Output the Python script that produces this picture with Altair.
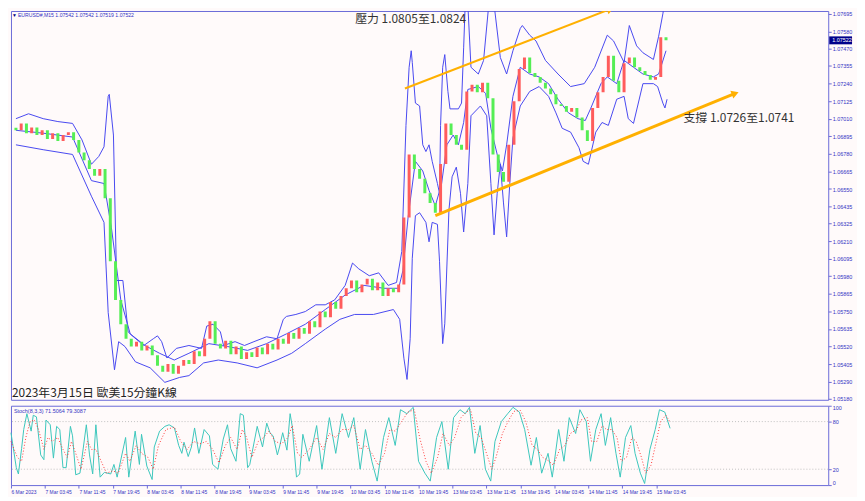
import altair as alt
import pandas as pd

# ---------------- data ----------------
price_ticks = [1.07695, 1.07580, 1.07470, 1.07355, 1.07240, 1.07125, 1.07010, 1.06895,
               1.06780, 1.06665, 1.06550, 1.06435, 1.06325, 1.06210, 1.06095, 1.05980,
               1.05865, 1.05750, 1.05635, 1.05520, 1.05405, 1.05290, 1.05180]
x_tick_bars = [0, 32, 64, 96, 128, 160, 192, 224, 256, 288, 320, 352, 384, 416, 448, 480,
               512, 544, 576, 608]
x_tick_labels = ["6 Mar 2023", "7 Mar 03:45", "7 Mar 11:45", "7 Mar 19:45", "8 Mar 03:45",
                 "8 Mar 11:45", "8 Mar 19:45", "9 Mar 03:45", "9 Mar 11:45", "9 Mar 19:45",
                 "10 Mar 03:45", "10 Mar 11:45", "10 Mar 19:45", "13 Mar 03:45", "13 Mar 11:45",
                 "13 Mar 19:45", "14 Mar 03:45", "14 Mar 11:45", "14 Mar 19:45", "15 Mar 03:45"]

candle_bar = list(range(0, 625, 5))
candle_first_open = 1.06950
candle_close = [
    1.06934, 1.06979, 1.06915, 1.06953, 1.06903, 1.06934, 1.06877, 1.06915, 1.06864, 1.06903,
    1.06922, 1.06871, 1.06788, 1.06738, 1.06681, 1.06636, 1.06681, 1.06490, 1.06078, 1.05825,
    1.05666, 1.05571, 1.05520, 1.05552, 1.05495, 1.05527, 1.05463, 1.05394, 1.05356, 1.05406,
    1.05343, 1.05394, 1.05432, 1.05406, 1.05489, 1.05457, 1.05571, 1.05685, 1.05539, 1.05508,
    1.05558, 1.05470, 1.05520, 1.05438, 1.05482, 1.05451, 1.05514, 1.05470, 1.05539, 1.05501,
    1.05571, 1.05539, 1.05609, 1.05571, 1.05641, 1.05603, 1.05685, 1.05647, 1.05749, 1.05711,
    1.05812, 1.05768, 1.05850, 1.05901, 1.05952, 1.05875, 1.05926, 1.05964, 1.05888, 1.05939,
    1.05850, 1.05901, 1.05875, 1.05926, 1.06364, 1.06776, 1.06681, 1.06617, 1.06522, 1.06459,
    1.06395, 1.06713, 1.06979, 1.06903, 1.06839, 1.06807, 1.07188, 1.07232, 1.07182, 1.07245,
    1.07143, 1.06776, 1.06662, 1.06598, 1.06839, 1.07124, 1.07334, 1.07410, 1.07308, 1.07283,
    1.07245, 1.07207, 1.07169, 1.07105, 1.07093, 1.07055, 1.07080, 1.07017, 1.06934, 1.06864,
    1.07080, 1.07182, 1.07283, 1.07422, 1.07258, 1.07182, 1.07372, 1.07410, 1.07346, 1.07321,
    1.07296, 1.07264, 1.07283, 1.07542, 1.07522]

upper_bar = [0, 12, 26, 40, 54, 63, 72, 79, 84, 88, 89, 93, 96, 102, 107, 111, 122, 131, 135,
             139, 144, 153, 165, 177, 182, 188, 195, 198, 209, 218, 227, 239, 249, 255, 258, 267,
             276, 286, 295, 304, 314, 321, 327, 337, 346, 355, 363, 368, 372, 375, 377, 378, 381,
             385, 388, 391, 394, 397, 402, 404, 405, 407, 409, 412, 414, 422, 425, 427, 429, 431,
             434, 441, 446, 451, 454, 456, 462, 468, 474, 481, 483, 490, 496, 505, 517, 529, 542,
             552, 564, 570, 580, 585, 592, 598, 608, 613, 617, 620]
upper_band = [1.07010, 1.07042, 1.07010, 1.06991, 1.06979, 1.06871, 1.06712, 1.06763, 1.06826,
              1.07156, 1.07169, 1.06903, 1.05952, 1.05952, 1.05616, 1.05590, 1.05527, 1.05571,
              1.05590, 1.05552, 1.05445, 1.05508, 1.05527, 1.05508, 1.05654, 1.05666, 1.05616,
              1.05527, 1.05552, 1.05527, 1.05552, 1.05584, 1.05571, 1.05698, 1.05717, 1.05730,
              1.05749, 1.05793, 1.05793, 1.05825, 1.05920, 1.06066, 1.06028, 1.05983, 1.06002,
              1.05920, 1.05939, 1.06142, 1.06966, 1.07346, 1.07454, 1.07378, 1.07112, 1.07093,
              1.06839, 1.06795, 1.06839, 1.06731, 1.06586, 1.06522, 1.06966, 1.07346, 1.07429,
              1.07188, 1.07074, 1.07074, 1.07112, 1.07473, 1.07854, 1.07758, 1.07346, 1.07302,
              1.07391, 1.07758, 1.07854, 1.07758, 1.07410, 1.07302, 1.07454, 1.07600, 1.07619,
              1.07556, 1.07518, 1.07391, 1.07302, 1.07220, 1.07239, 1.07346, 1.07556, 1.07518,
              1.07378, 1.07619, 1.07486, 1.07441, 1.07397, 1.07549, 1.07695, 1.07822]

middle_bar = [0, 26, 54, 72, 84, 91, 100, 109, 123, 137, 151, 165, 184, 202, 221, 239, 258, 276,
              295, 314, 332, 351, 365, 369, 374, 381, 388, 394, 400, 406, 411, 417, 422, 427, 431,
              441, 448, 453, 459, 464, 468, 474, 481, 490, 499, 508, 517, 527, 536, 543, 548, 558,
              564, 573, 580, 589, 598, 608, 613, 620]
middle_band = [1.06934, 1.06915, 1.06890, 1.06605, 1.06586, 1.06300, 1.05825, 1.05603, 1.05527,
               1.05476, 1.05432, 1.05476, 1.05539, 1.05520, 1.05495, 1.05539, 1.05603, 1.05666,
               1.05762, 1.05857, 1.05920, 1.05901, 1.05901, 1.06015, 1.06364, 1.06731, 1.06668,
               1.06541, 1.06440, 1.06586, 1.06839, 1.06903, 1.06839, 1.06985, 1.07201, 1.07220,
               1.07175, 1.06947, 1.06776, 1.06668, 1.06839, 1.07156, 1.07346, 1.07302, 1.07283,
               1.07239, 1.07137, 1.07048, 1.07010, 1.06998, 1.07074, 1.07239, 1.07283, 1.07239,
               1.07391, 1.07346, 1.07302, 1.07283, 1.07302, 1.07454]

lower_bar = [0, 26, 54, 72, 84, 88, 94, 98, 104, 114, 128, 142, 156, 165, 179, 193, 211, 230,
             249, 263, 276, 295, 309, 323, 341, 360, 366, 370, 373, 376, 378, 381, 385, 391, 394,
             397, 402, 404, 407, 409, 413, 416, 420, 424, 427, 431, 434, 443, 449, 453, 456, 459,
             462, 465, 468, 471, 474, 481, 490, 499, 508, 515, 521, 529, 537, 541, 546, 553, 559,
             565, 573, 580, 584, 589, 598, 608, 612, 617, 619, 621]
lower_band = [1.06839, 1.06807, 1.06776, 1.06503, 1.06332, 1.05742, 1.05368, 1.05552, 1.05520,
              1.05420, 1.05381, 1.05286, 1.05318, 1.05330, 1.05413, 1.05432, 1.05413, 1.05381,
              1.05432, 1.05476, 1.05539, 1.05634, 1.05698, 1.05730, 1.05730, 1.05762, 1.05698,
              1.05444, 1.05305, 1.05571, 1.06097, 1.06376, 1.06395, 1.06332, 1.06205, 1.06332,
              1.06319, 1.06078, 1.05539, 1.05669, 1.06414, 1.06630, 1.06693, 1.06522, 1.06269,
              1.06586, 1.07029, 1.07093, 1.07029, 1.06586, 1.06250, 1.06522, 1.06713, 1.06459,
              1.06237, 1.06586, 1.06884, 1.07093, 1.07188, 1.07220, 1.07156, 1.07048, 1.06947,
              1.06922, 1.06820, 1.06731, 1.06712, 1.06922, 1.06985, 1.06966, 1.07137, 1.07156,
              1.07010, 1.06979, 1.07239, 1.07239, 1.07220, 1.07112, 1.07080, 1.07137]

stoch_bar = [0, 5, 7, 10, 12, 15, 19, 21, 24, 28, 31, 33, 37, 40, 43, 46, 49, 52, 56, 58, 61, 65,
             71, 74, 77, 80, 84, 88, 94, 97, 100, 108, 111, 117, 121, 123, 128, 133, 135, 140, 145,
             149, 154, 158, 161, 163, 167, 170, 173, 177, 182, 187, 190, 195, 200, 204, 207, 212,
             216, 219, 223, 225, 232, 237, 241, 244, 247, 251, 253, 256, 260, 263, 265, 269, 272,
             275, 281, 288, 293, 300, 306, 312, 318, 323, 329, 334, 340, 345, 351, 356, 362, 367,
             373, 379, 384, 390, 395, 401, 406, 412, 417, 423, 428, 432, 437, 442, 447, 452, 456,
             462, 468, 473, 479, 484, 490, 495, 500, 506, 510, 516, 521, 526, 532, 536, 542, 546,
             551, 556, 560, 565, 570, 574, 579, 584, 588, 593, 597, 602, 607, 611, 616, 621]
stoch_main = [66, 22, 14, 46, 70, 90, 68, 88, 86, 38, 32, 82, 76, 34, 74, 70, 22, 22, 74, 62, 13,
              15, 76, 38, 14, 76, 10, 16, 14, 26, 10, 60, 10, 68, 26, 64, 24, 7, 48, 68, 74, 76,
              72, 50, 40, 54, 36, 48, 72, 40, 70, 62, 26, 20, 58, 76, 46, 30, 90, 88, 22, 26, 74,
              48, 78, 66, 62, 38, 48, 66, 44, 90, 74, 10, 14, 64, 30, 75, 20, 85, 40, 90, 60, 85,
              20, 70, 30, 5, 60, 85, 50, 95, 90, 98, 30, 15, 5, 60, 80, 20, 85, 95, 90, 98, 40,
              75, 20, 5, 55, 80, 90, 98, 92, 70, 25, 60, 15, 40, 10, 70, 30, 85, 65, 95, 80, 30,
              70, 90, 50, 85, 40, 10, 60, 75, 40, 15, 2, 45, 70, 95, 92, 71.5]

signal_bar = [0, 6, 10, 14, 18, 22, 26, 31, 35, 39, 44, 49, 53, 57, 61, 66, 72, 76, 80, 85, 90,
              96, 101, 108, 112, 118, 123, 129, 134, 139, 146, 154, 160, 166, 172, 178, 184, 190,
              196, 202, 207, 213, 218, 222, 227, 233, 238, 243, 249, 255, 261, 265, 270, 274, 281,
              288, 294, 300, 306, 312, 318, 323, 329, 334, 340, 346, 352, 357, 362, 368, 374, 380,
              385, 391, 396, 402, 407, 413, 418, 424, 429, 433, 438, 443, 448, 453, 457, 463, 469,
              474, 480, 485, 491, 496, 501, 507, 511, 517, 522, 527, 533, 537, 543, 547, 552, 557,
              561, 566, 571, 575, 580, 585, 589, 594, 598, 603, 608, 612, 617, 621]
stoch_signal = [55, 35, 30, 60, 80, 82, 70, 45, 60, 55, 60, 45, 35, 55, 40, 20, 55, 45, 45, 30,
                15, 18, 15, 40, 30, 50, 40, 35, 20, 50, 70, 73, 55, 45, 55, 52, 55, 45, 28, 50, 60,
                45, 70, 60, 35, 55, 60, 68, 55, 52, 60, 75, 40, 35, 45, 60, 45, 65, 60, 70, 70, 75,
                45, 50, 40, 25, 40, 70, 68, 80, 92, 95, 60, 30, 15, 35, 65, 50, 60, 85, 92, 95, 65,
                60, 40, 20, 35, 65, 82, 93, 94, 80, 50, 45, 35, 30, 25, 45, 50, 65, 70, 82, 85, 55,
                55, 75, 70, 70, 60, 30, 35, 60, 55, 35, 15, 25, 55, 80, 88, 79.3]

channel_upper_bar = [371, 567]
channel_upper_price = [1.07207, 1.07727]
channel_lower_bar = [400, 686]
channel_lower_price = [1.06376, 1.07175]
last_price = 1.07522

# ---------------- styling ----------------
W, H_MAIN, H_STOCH = 824, 392, 80
FRAME = "#6a6ad8"
BLUE_TXT = "#3434c4"
BAND = "#4848f0"
UP = "#ff5c5c"
DOWN = "#55ee55"
ORANGE = "#ffb000"

xscale = alt.Scale(domain=[0, 770], nice=False, zero=False)
yscale = alt.Scale(domain=[1.05172, 1.07714], nice=False, zero=False)
yaxis = alt.Axis(orient="right", values=price_ticks, format=".5f", title=None, grid=False,
                 domain=False, tickSize=3, labelPadding=1, labelFontSize=5.5)


def X(field):
    return alt.X(field + ":Q", scale=xscale, axis=None)


def Y(field):
    return alt.Y(field + ":Q", scale=yscale, axis=yaxis)


opens = [candle_first_open] + candle_close[:-1]
candles = pd.DataFrame({"bar": candle_bar, "open": opens, "close": candle_close})
candles["dir"] = ["up" if c >= o else "down" for o, c in zip(opens, candle_close)]

candle_layer = alt.Chart(candles).mark_bar(size=3, clip=True).encode(
    x=X("bar"), y=Y("open"), y2="close:Q",
    color=alt.Color("dir:N", scale=alt.Scale(domain=["up", "down"], range=[UP, DOWN]), legend=None),
)


def band_layer(bars, vals):
    df = pd.DataFrame({"bar": bars, "p": vals})
    return alt.Chart(df).mark_line(color=BAND, strokeWidth=1, clip=True).encode(x=X("bar"), y=Y("p"))


def channel(bars, vals, width):
    df = pd.DataFrame({"bar": bars, "p": vals})
    line = alt.Chart(df).mark_line(color=ORANGE, strokeWidth=width, clip=True).encode(
        x=X("bar"), y=Y("p"))
    head = alt.Chart(df.tail(1)).mark_point(shape="triangle-right", filled=True, color=ORANGE,
                                            opacity=1, size=70, angle=339, clip=True).encode(
        x=X("bar"), y=Y("p"))
    return line + head


def text_layer(txt, x, y, size, color, font="Liberation Sans", baseline="middle"):
    return alt.Chart(pd.DataFrame({"t": [txt]})).mark_text(
        align="left", baseline=baseline, font=font, fontSize=size, color=color
    ).encode(x=alt.value(x), y=alt.value(y), text="t:N")


price_df = pd.DataFrame({"p": [last_price], "t": ["1.07522"]})
price_box = alt.Chart(price_df).mark_rule(color="#00008b", strokeWidth=8, strokeCap="butt").encode(
    x=alt.value(W + 1), x2=alt.value(W + 24), y=Y("p"))
price_txt = alt.Chart(price_df).mark_text(align="left", baseline="middle", color="white",
                                          font="Liberation Sans", fontSize=5.5).encode(
    x=alt.value(W + 4), y=Y("p"), text="t:N")

CJK = "Noto Sans CJK TC"
main = alt.layer(
    band_layer(upper_bar, upper_band),
    band_layer(middle_bar, middle_band),
    band_layer(lower_bar, lower_band),
    candle_layer,
    channel(channel_upper_bar, channel_upper_price, 2),
    channel(channel_lower_bar, channel_lower_price, 3),
    price_box, price_txt,
    text_layer("▼", 1, 4, 5, "#000080"),
    text_layer("EURUSD#,M15  1.07542 1.07542 1.07519 1.07522", 7, 4, 5.2, BLUE_TXT),
    text_layer("壓力 1.0805至1.0824", 347, 8, 12, "#333333", CJK),
    text_layer("支撐 1.0726至1.0741", 678, 108, 12, "#333333", CJK),
    text_layer("2023年3月15日 歐美15分鐘K線", 1, 385, 12, "#222222", CJK),
).properties(width=W, height=H_MAIN)

# ---------------- stochastic ----------------
sscale = alt.Scale(domain=[0, 100], nice=False, zero=False)
saxis = alt.Axis(orient="right", values=[0, 20, 80, 100], title=None, grid=False, domain=False,
                 tickSize=3, labelPadding=1, labelFontSize=5.5, labelFlush=True)
label_expr = "[" + ",".join("'" + s + "'" for s in x_tick_labels) + "][round(datum.value / 32)]"
sxaxis = alt.Axis(values=x_tick_bars, labelExpr=label_expr, title=None, grid=False, domain=False,
                  tickSize=3, labelAlign="left", labelPadding=1, labelFontSize=5, labelFlush=False)

levels = pd.DataFrame({"v": [20, 80]})
level_layer = alt.Chart(levels).mark_rule(color="#c0c0c0", strokeDash=[1, 2], strokeWidth=1).encode(
    y=alt.Y("v:Q", scale=sscale, axis=saxis))
main_line = alt.Chart(pd.DataFrame({"bar": stoch_bar, "v": stoch_main})).mark_line(
    color="#3cc6bc", strokeWidth=1).encode(
    x=alt.X("bar:Q", scale=xscale, axis=sxaxis), y=alt.Y("v:Q", scale=sscale, axis=saxis))
sig_line = alt.Chart(pd.DataFrame({"bar": signal_bar, "v": stoch_signal})).mark_line(
    color="#ff3a3a", strokeWidth=1, strokeDash=[1, 2]).encode(
    x=alt.X("bar:Q", scale=xscale, axis=sxaxis), y=alt.Y("v:Q", scale=sscale, axis=saxis))

stoch = alt.layer(
    level_layer, main_line, sig_line,
    text_layer("Stoch(8,3,3) 71.5064 79.3087", 3, 5, 5.5, BLUE_TXT),
).properties(width=W, height=H_STOCH)

chart = alt.vconcat(main, stoch, spacing=2).properties(
    padding=0
).configure(background="#fffafa").configure_view(stroke=FRAME, strokeWidth=1).configure_axis(
    labelColor=BLUE_TXT, tickColor=FRAME, labelFont="Liberation Sans"
)

chart.save("out.html", embed_options={"renderer": "svg", "actions": False})
